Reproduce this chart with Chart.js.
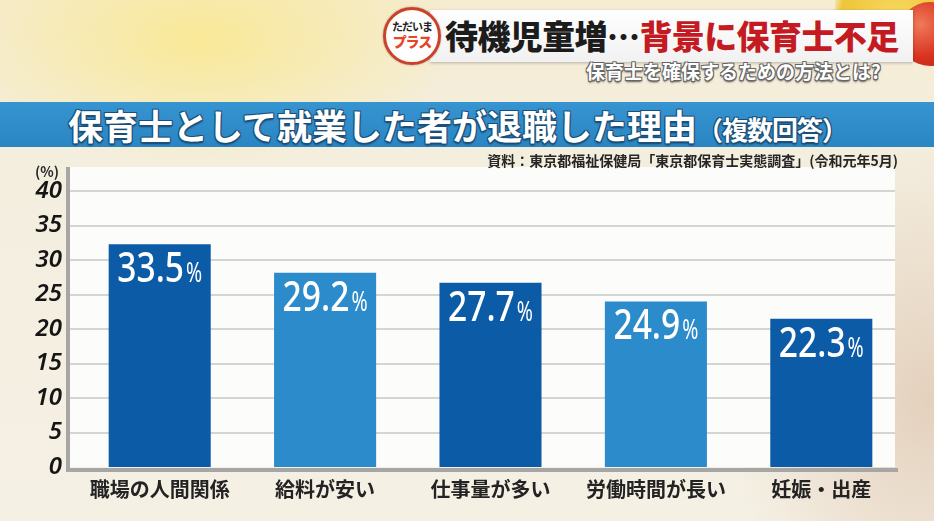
<!DOCTYPE html>
<html lang="ja">
<head>
<meta charset="utf-8">
<script src="https://cdn.jsdelivr.net/npm/chart.js@4.4.1/dist/chart.umd.min.js"></script>
<style>
  body { margin: 0; }
  #stage {
    position: relative; width: 934px; height: 521px; overflow: hidden;
    font-family: "Noto Sans CJK JP", "Noto Sans", sans-serif;
    background:
      radial-gradient(ellipse 260px 130px at 200px 40px, rgba(250, 232, 140, 0.85), rgba(250, 232, 140, 0) 100%),
      radial-gradient(ellipse 200px 260px at 930px 400px, rgba(226, 205, 185, 0.9), rgba(226, 205, 185, 0) 100%),
      linear-gradient(180deg, #f5ecd2 0%, #f4eedf 30%, #f5f0e4 100%);
  }
  .glow { position: absolute; left: 835px; top: -50px; width: 120px; height: 110px; border-radius: 50%;
    background: radial-gradient(circle at 50% 60%, #f6d860, #eec53a 60%, rgba(238,197,58,0) 72%); }
  .redball { position: absolute; left: 898px; top: 2px; width: 64px; height: 64px; border-radius: 50%;
    background: radial-gradient(circle at 35% 35%, #f07a5a, #d8331f 55%, #b8200f); }
  .titlebox { position: absolute; left: 430px; top: 10px; width: 483px; height: 52px;
    background: linear-gradient(180deg, #ffffff, #f1f1f1); box-shadow: 0 1px 3px rgba(0,0,0,0.25); }
  .title { position: absolute; left: 445px; top: 13px; font-size: 33px; font-weight: 900; line-height: 44px;
    letter-spacing: -0.6px; color: #1c1c1c; white-space: nowrap; }
  .title .red { color: #c41a22; }
  .logo { position: absolute; left: 383px; top: 7px; width: 52px; height: 52px; border-radius: 50%;
    background: radial-gradient(circle, #ffffff 60%, #fbe9df 100%); border: 3px solid #c9432a;
    box-shadow: 0 0 2px rgba(0,0,0,0.4); text-align: center; }
  .logo .l1 { font-size: 11px; font-weight: bold; color: #222; margin-top: 9px; line-height: 14px; letter-spacing: -1px; }
  .logo .l2 { font-size: 14px; font-weight: 900; color: #e8452a; line-height: 16px; letter-spacing: -1px; }
  .subtitle { position: absolute; left: 586px; top: 59px; font-size: 19px; font-weight: bold; line-height: 24px;
    color: #ffffff; white-space: nowrap;
    text-shadow: -1px -1px 0 #666, 1px -1px 0 #666, -1px 1px 0 #666, 1px 1px 0 #666, 0 2px 2px #555; }
  .banner { position: absolute; left: 0; top: 102px; width: 934px; height: 45px;
    background: linear-gradient(180deg, #3694d0, #2a86c3); }
  .banner span.main { position: absolute; left: 68px; top: 0; font-size: 35px; font-weight: bold; line-height: 45px;
    color: #fff; white-space: nowrap;
    text-shadow: -1px -1px 0 #1b4f7a, 1px -1px 0 #1b4f7a, -1px 1px 0 #1b4f7a, 1px 1px 0 #1b4f7a, 0 2px 2px #173f63; }
  .banner .small { font-size: 26px; letter-spacing: -1px; }
  .source { position: absolute; right: 36px; top: 150px; font-size: 14px; font-weight: bold; line-height: 20px;
    color: #262626; white-space: nowrap; }
  .unit { position: absolute; left: 35px; top: 162px; font-size: 14px; font-weight: bold; color: #262626; line-height: 18px; }
  #graph { position: absolute; left: 0; top: 0; }
</style>
</head>
<body>
<div id="stage">
  <div class="glow"></div>
  <div class="redball"></div>
  <div class="titlebox"></div>
  <div class="title">待機児童増…<span class="red">背景に保育士不足</span></div>
  <div class="logo"><div class="l1">ただいま</div><div class="l2">プラス</div></div>
  <div class="subtitle">保育士を確保するための方法とは?</div>
  <div class="banner"><span class="main">保育士として就業した者が退職した理由<span class="small">（複数回答）</span></span></div>
  <canvas id="graph" width="934" height="521"></canvas>
  <div class="source">資料：東京都福祉保健局「東京都保育士実態調査」(令和元年5月)</div>
  <div class="unit">(%)</div>
</div>
<script>
// reasons for leaving, percent (multiple answers)
const categories = ['職場の人間関係', '給料が安い', '仕事量が多い', '労働時間が長い', '妊娠・出産'];
const percentValues = [33.5, 29.2, 27.7, 24.9, 22.3];
const barColors = ['#0b5ba6', '#2b8bcb', '#0b5ba6', '#2b8bcb', '#0b5ba6'];
const yTickValues = [0, 5, 10, 15, 20, 25, 30, 35, 40];

// plot panel geometry (white board behind the bars)
const panelLeft = 68, panelRight = 895, panelTop = 167;

const boardPlugin = {
    id: 'board',
    beforeDraw(chart) {
        const ctx = chart.ctx, y = chart.scales.y;
        const bottom = y.getPixelForValue(0);
        ctx.save();
        ctx.fillStyle = '#fcfcfa';
        ctx.fillRect(panelLeft, panelTop, panelRight - panelLeft, bottom - panelTop);
        ctx.strokeStyle = '#d5d5d3';
        ctx.lineWidth = 2;
        yTickValues.forEach(function (v) {
            if (v === 0) return;
            const py = Math.round(y.getPixelForValue(v));
            ctx.beginPath();
            ctx.moveTo(panelLeft, py);
            ctx.lineTo(panelRight, py);
            ctx.stroke();
        });
        ctx.restore();
    },
    afterDatasetsDraw(chart) {
        const ctx = chart.ctx, y = chart.scales.y;
        const bottom = y.getPixelForValue(0);
        ctx.save();
        // grey axis lines
        ctx.strokeStyle = '#a6a6a6';
        ctx.lineWidth = 4;
        ctx.beginPath();
        ctx.moveTo(panelLeft, panelTop);
        ctx.lineTo(panelLeft, bottom + 3);
        ctx.lineTo(panelRight + 3, bottom + 3);
        ctx.stroke();

        // value labels inside the bars
        const meta = chart.getDatasetMeta(0);
        meta.data.forEach(function (bar, i) {
            const numText = percentValues[i].toFixed(1);
            ctx.font = '500 42px "Noto Sans"';
            const w1 = ctx.measureText(numText).width * 0.8;
            ctx.font = '27px "Noto Sans"';
            const w2 = ctx.measureText('%').width * 0.72;
            const gap = 2;
            const x0 = bar.x - (w1 + gap + w2) / 2;
            const base = bar.y + 38;
            ctx.fillStyle = '#ffffff';
            ctx.textAlign = 'left';
            ctx.textBaseline = 'alphabetic';
            ctx.save();
            ctx.translate(x0, base);
            ctx.scale(0.8, 1);
            ctx.font = '500 42px "Noto Sans"';
            ctx.fillText(numText, 0, 0);
            ctx.restore();
            ctx.save();
            ctx.translate(x0 + w1 + gap, base);
            ctx.scale(0.72, 1);
            ctx.font = '27px "Noto Sans"';
            ctx.fillText('%', 0, 0);
            ctx.restore();
        });
        ctx.restore();
    }
};

const graphCtx = document.getElementById('graph').getContext('2d');
const chart = new Chart(graphCtx, {
    type: 'bar',
    data: {
        labels: categories,
        datasets: [{
            data: percentValues,
            backgroundColor: barColors,
            borderWidth: 0,
            yAxisID: 'bars',
            categoryPercentage: 1,
            barPercentage: 0.617
        }]
    },
    options: {
        responsive: false,
        animation: false,
        events: [],
        layout: {padding: {top: 191, right: 30, left: 0, bottom: 0}},
        plugins: {legend: {display: false}, tooltip: {enabled: false}},
        scales: {
            x: {
                grid: {display: false, drawTicks: false},
                border: {display: false},
                ticks: {
                    color: '#232323',
                    padding: 10,
                    maxRotation: 0,
                    autoSkip: false,
                    font: {family: '"Noto Sans CJK JP"', size: 20, weight: 'bold'}
                },
                afterFit(scale) { scale.height = 54; }
            },
            y: {
                min: yTickValues[0],
                max: yTickValues[yTickValues.length - 1],
                grid: {display: false, drawTicks: false},
                border: {display: false},
                ticks: {
                    stepSize: 5,
                    padding: 15,
                    color: '#151515',
                    font: {family: '"Noto Sans"', size: 24, style: 'italic', weight: '600'}
                },
                afterFit(scale) { scale.width = 77; }
            },
            // bars on the TV graphic are drawn slightly shorter than the grid scale
            bars: {
                display: false,
                min: 0,
                max: 41.5
            }
        }
    },
    plugins: [boardPlugin]
});
</script>
</body>
</html>
